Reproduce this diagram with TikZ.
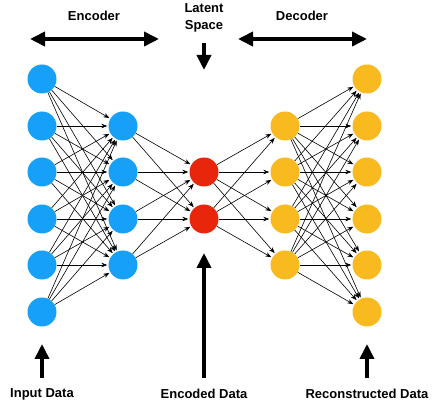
\documentclass[tikz,border=0pt]{standalone}
\usepackage{fontspec}
\setmainfont{Liberation Sans}
\usepackage{xcolor}
\usetikzlibrary{arrows.meta,calc}
\definecolor{encblue}{RGB}{22,160,248}
\definecolor{latred}{RGB}{232,38,12}
\definecolor{decyellow}{RGB}{248,186,30}
\tikzset{
	neuron/.style={circle, minimum size=29pt, inner sep=0pt, draw=none, fill=#1},
	link/.style={-{Stealth[length=6pt,width=4.5pt]}, line width=0.6pt, shorten >=1pt},
	bigarrow/.style={-{Triangle[length=15pt,width=14pt]}, line width=3.6pt},
	headtext/.style={font=\bfseries\fontsize{13}{17}\selectfont, align=center}
}

\begin{document}
\begin{tikzpicture}[x=1pt, y=-1pt]
	\useasboundingbox (0,0) rectangle (437,403);
	% layers
	\foreach \i/\y in {1/79,2/126,3/172,4/219,5/265,6/312}
		\node[neuron=encblue] (in\i) at (42,\y) {};
	\foreach \i/\y in {1/126,2/172,3/219,4/265}
		\node[neuron=encblue] (enc\i) at (123,\y) {};
	\foreach \i/\y in {1/172,2/219}
		\node[neuron=latred] (lat\i) at (204,\y) {};
	\foreach \i/\y in {1/126,2/172,3/219,4/265}
		\node[neuron=decyellow] (dec\i) at (285,\y) {};
	\foreach \i/\y in {1/79,2/126,3/172,4/219,5/265,6/312}
		\node[neuron=decyellow] (out\i) at (367,\y) {};
	% connections
	\foreach \a in {1,...,6}
		\foreach \b in {1,...,4}
			\draw[link] (in\a) -- (enc\b);
	\foreach \a in {1,...,4}
		\foreach \b in {1,2}
			\draw[link] (enc\a) -- (lat\b);
	\foreach \a in {1,2}
		\foreach \b in {1,...,4}
			\draw[link] (lat\a) -- (dec\b);
	\foreach \a in {1,...,4}
		\foreach \b in {1,...,6}
			\draw[link] (dec\a) -- (out\b);
	% top labels
	\node[headtext] (enctext) at (94,16) {Encoder};
	\node[headtext] (lattext) at (204,18) {Latent\\Space};
	\node[headtext] (dectext) at (302,16) {Decoder};
	\coordinate (encL) at (30,39);
	\coordinate (encR) at (159,39);
	\coordinate (decL) at (238,39);
	\coordinate (decR) at (367,39);
	\coordinate (latA) at (204,43);
	\coordinate (latB) at (204,70);
	\draw[bigarrow, {Triangle[length=15pt,width=14pt]}-{Triangle[length=15pt,width=14pt]}] (encL) -- (encR);
	\draw[bigarrow, {Triangle[length=15pt,width=14pt]}-{Triangle[length=15pt,width=14pt]}] (decL) -- (decR);
	\draw[bigarrow] (latA) -- (latB);
	% bottom labels
	\node[headtext] (intext) at (42,394) {Input Data};
	\node[headtext] (codetext) at (204,394) {Encoded Data};
	\node[headtext] (outtext) at (367,394) {Reconstructed Data};
	\coordinate (inA) at (42,378);
	\coordinate (inB) at (42,344);
	\coordinate (codeA) at (204,378);
	\coordinate (codeB) at (204,253);
	\coordinate (outA) at (367,378);
	\coordinate (outB) at (367,344);
	\draw[bigarrow] (inA) -- (inB);
	\draw[bigarrow] (codeA) -- (codeB);
	\draw[bigarrow] (outA) -- (outB);
\end{tikzpicture}
\end{document}
